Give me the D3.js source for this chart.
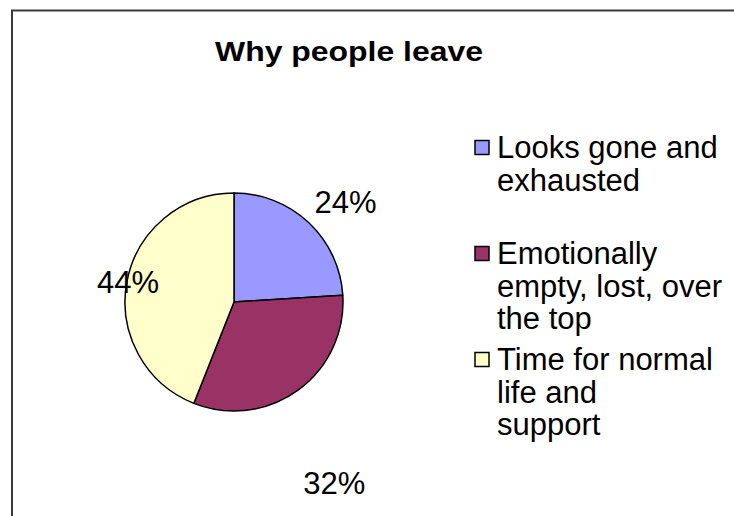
<!DOCTYPE html>
<html>
<head>
<meta charset="utf-8">
<script src="https://cdn.jsdelivr.net/npm/d3@7"></script>
<style>
  html, body { margin: 0; padding: 0; background: #ffffff; overflow: hidden; }
  svg { display: block; }
  text { font-family: "Liberation Sans", Arial, Helvetica, sans-serif; fill: #000000; }
</style>
</head>
<body>
<svg id="chart" width="734" height="516"></svg>
<script>
// Reasons people give for leaving (share of answers, %)
const categories = [
  "Looks gone and exhausted",
  "Emotionally empty, lost, over the top",
  "Time for normal life and support"
];
const shares = [24, 32, 44];
const legendLines = [
  ["Looks gone and", "exhausted"],
  ["Emotionally", "empty, lost, over", "the top"],
  ["Time for normal", "life and", "support"]
];
const sliceColors = ["#9999FF", "#993366", "#FFFFCC"];
const chartTitle = "Why people leave";

// Layout
const W = 734, H = 516;
const cx = 234, cy = 302, radius = 109;
// Where each percentage label sits: angle (deg, clockwise from 12 o'clock) and distance from the centre
const labelPlacement = [
  { angle: 48, dist: 150 },
  { angle: 151, dist: 207 },
  { angle: 281, dist: 108 }
];

const svg = d3.select("#chart");

// Chart frame: only its top and left edges fall inside the view
svg.append("path")
  .attr("d", `M12,${H + 5} L12,10.5 L${W + 5},10.5`)
  .attr("fill", "none")
  .attr("stroke", "#3a3a3a")
  .attr("stroke-width", 2);

// Title
svg.append("text")
  .attr("x", 349).attr("y", 61)
  .attr("text-anchor", "middle")
  .attr("font-size", 27)
  .attr("font-weight", "bold")
  .attr("textLength", 268)
  .attr("lengthAdjust", "spacingAndGlyphs")
  .text(chartTitle);

// Pie
const pie = d3.pie().sort(null).value(d => d)
  .startAngle(0).endAngle(2 * Math.PI);
const arcs = pie(shares);
const arc = d3.arc().innerRadius(0).outerRadius(radius);

const g = svg.append("g").attr("transform", `translate(${cx},${cy})`);
g.selectAll("path.slice")
  .data(arcs)
  .join("path")
  .attr("class", "slice")
  .attr("d", arc)
  .attr("fill", (d, i) => sliceColors[i])
  .attr("stroke", "#000000")
  .attr("stroke-width", 1.5)
  .attr("stroke-linejoin", "round");

// Percentage labels
const total = d3.sum(shares);
const pct = d3.format(".0%");
g.selectAll("text.pct")
  .data(arcs)
  .join("text")
  .attr("class", "pct")
  .attr("x", (d, i) => labelPlacement[i].dist * Math.sin(labelPlacement[i].angle * Math.PI / 180))
  .attr("y", (d, i) => -labelPlacement[i].dist * Math.cos(labelPlacement[i].angle * Math.PI / 180))
  .attr("dy", "0.36em")
  .attr("text-anchor", "middle")
  .attr("font-size", 31)
  .text(d => pct(d.value / total));

// Legend
const legendX = 475;
const firstBaselines = [158, 264, 370];
const lineGap = 32.5;
const legend = svg.append("g");
categories.forEach((c, i) => {
  const item = legend.append("g").attr("class", "legend-item");
  item.append("rect")
    .attr("x", legendX).attr("y", firstBaselines[i] - 17.5)
    .attr("width", 14).attr("height", 14)
    .attr("fill", sliceColors[i])
    .attr("stroke", "#000000")
    .attr("stroke-width", 1.5);
  const t = item.append("text")
    .attr("x", legendX + 22)
    .attr("y", firstBaselines[i])
    .attr("font-size", 31);
  legendLines[i].forEach((line, j) => {
    t.append("tspan")
      .attr("x", legendX + 22)
      .attr("y", firstBaselines[i] + j * lineGap)
      .text(line);
  });
});
</script>
</body>
</html>
